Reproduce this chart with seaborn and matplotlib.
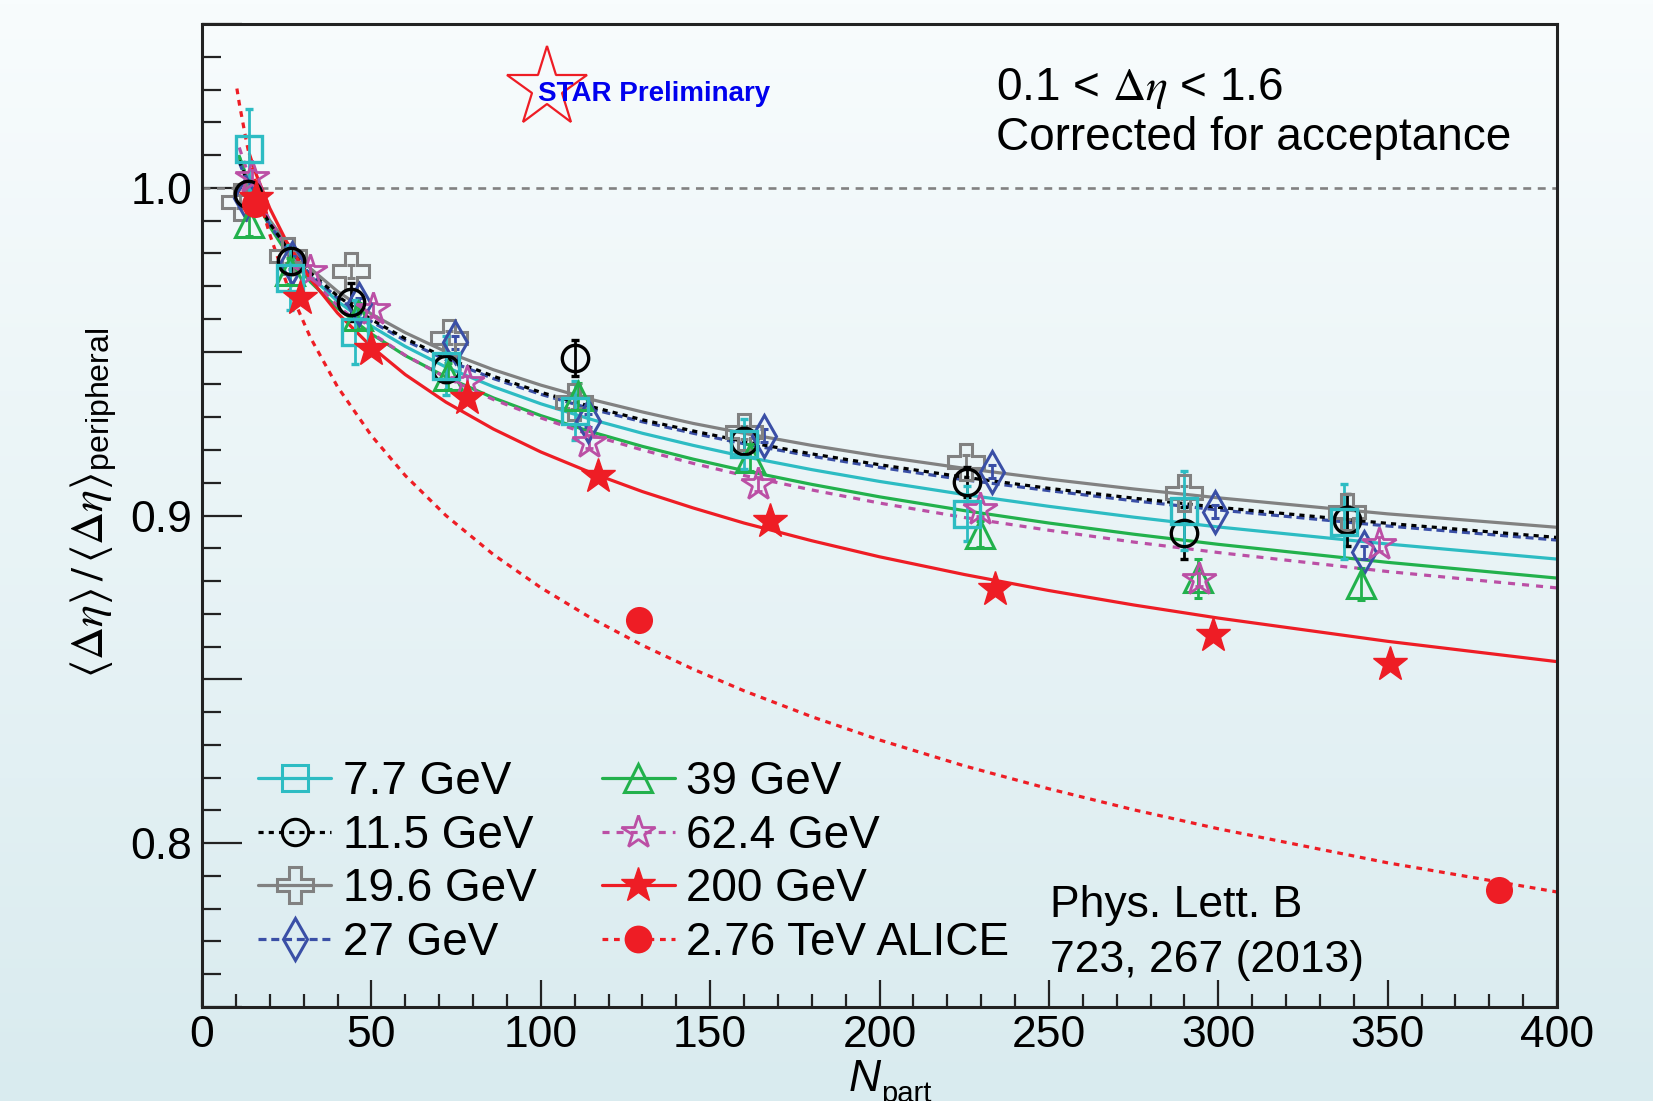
import numpy as np
import matplotlib
matplotlib.use('Agg')
import matplotlib.pyplot as plt
import seaborn as sns
from matplotlib.lines import Line2D
from matplotlib.colors import LinearSegmentedColormap
from matplotlib.ticker import MultipleLocator, FuncFormatter

npart_7 = [14.0, 26.0, 45.2, 72.0, 110.1, 160.0, 225.9, 290.0, 337.1]
ratio_7 = [1.0117, 0.9726, 0.9560, 0.9457, 0.9320, 0.9218, 0.9005, 0.9015, 0.8981]
err_7 = [0.0125, 0.0100, 0.0098, 0.0090, 0.0090, 0.0075, 0.0084, 0.0120, 0.0114]

npart_11 = [13.7, 26.3, 43.9, 72.0, 110.1, 160.0, 225.9, 290.0, 338.0]
ratio_11 = [0.9980, 0.9777, 0.9652, 0.9447, 0.9482, 0.9228, 0.9101, 0.8947, 0.8987]
err_11 = [0.0030, 0.0040, 0.0057, 0.0040, 0.0055, 0.0040, 0.0046, 0.0080, 0.0080]

npart_19 = [11.2, 25.3, 43.9, 73.0, 109.9, 160.0, 225.6, 290.0, 338.0]
ratio_19 = [0.9957, 0.9792, 0.9746, 0.9543, 0.9345, 0.9254, 0.9164, 0.9069, 0.9010]
err_19 = [0.002, 0.002, 0.002, 0.002, 0.002, 0.002, 0.002, 0.002, 0.002]

npart_27 = [13.0, 26.5, 46.4, 74.7, 114.0, 166.0, 233.2, 299.0, 343.0]
ratio_27 = [0.9970, 0.9772, 0.9645, 0.9528, 0.9289, 0.9243, 0.9134, 0.9012, 0.8888]
err_27 = [0.002, 0.002, 0.002, 0.002, 0.002, 0.002, 0.002, 0.002, 0.002]

npart_39 = [14.0, 26.0, 46.0, 72.5, 111.0, 161.9, 229.7, 294.0, 342.1]
ratio_39 = [0.9894, 0.9745, 0.9610, 0.9426, 0.9365, 0.9177, 0.8944, 0.8808, 0.8791]
err_39 = [0.004, 0.004, 0.004, 0.004, 0.004, 0.004, 0.004, 0.006, 0.005]

npart_62 = [14.7, 31.9, 50.6, 78.1, 114.3, 164.2, 229.7, 294.3, 347.4]
ratio_62 = [1.0034, 0.9746, 0.9630, 0.9406, 0.9225, 0.9096, 0.9020, 0.8806, 0.8913]
err_62 = [0.002, 0.002, 0.002, 0.002, 0.002, 0.002, 0.002, 0.002, 0.002]

npart_200 = [16.0, 28.9, 49.8, 78.1, 117.0, 167.6, 234.2, 298.4, 350.7]
ratio_200 = [0.9970, 0.9665, 0.9508, 0.9360, 0.9121, 0.8984, 0.8776, 0.8636, 0.8547]
err_200 = [0.002, 0.002, 0.002, 0.002, 0.002, 0.002, 0.002, 0.002, 0.002]

npart_alice = [15.7, 128.9, 383.0]
ratio_alice = [0.9952, 0.8680, 0.7858]

# fit curves
fit_x = [11, 13, 16, 20, 25, 32, 40, 50, 60, 72, 86, 100, 115, 130, 145, 160, 180, 200,
         225, 250, 275, 300, 350, 400]
fit_19 = [1.0089, 1.0036, 0.9971, 0.9901, 0.9832, 0.9754, 0.9684, 0.9615, 0.9558, 0.9500,
          0.9445, 0.9398, 0.9354, 0.9316, 0.9281, 0.9251, 0.9214, 0.9181, 0.9144, 0.9111,
          0.9081, 0.9054, 0.9005, 0.8964]
fit_11 = [1.0083, 1.0029, 0.9963, 0.9891, 0.9820, 0.9741, 0.9670, 0.9598, 0.9540, 0.9481,
          0.9425, 0.9376, 0.9332, 0.9292, 0.9258, 0.9226, 0.9188, 0.9155, 0.9117, 0.9083,
          0.9053, 0.9025, 0.8976, 0.8933]
fit_27 = [1.0078, 1.0025, 0.9958, 0.9886, 0.9815, 0.9736, 0.9664, 0.9592, 0.9534, 0.9475,
          0.9418, 0.9370, 0.9325, 0.9286, 0.9251, 0.9219, 0.9181, 0.9147, 0.9109, 0.9076,
          0.9045, 0.9017, 0.8968, 0.8925]
fit_7 = [1.0096, 1.0039, 0.9968, 0.9892, 0.9815, 0.9731, 0.9654, 0.9578, 0.9516, 0.9453,
         0.9393, 0.9341, 0.9293, 0.9251, 0.9214, 0.9180, 0.9140, 0.9104, 0.9064, 0.9028,
         0.8995, 0.8965, 0.8913, 0.8867]
fit_39 = [1.0096, 1.0036, 0.9961, 0.9882, 0.9802, 0.9713, 0.9633, 0.9554, 0.9488, 0.9423,
          0.9359, 0.9305, 0.9255, 0.9211, 0.9172, 0.9137, 0.9095, 0.9057, 0.9015, 0.8977,
          0.8943, 0.8912, 0.8857, 0.8809]
fit_62 = [1.0123, 1.0061, 0.9983, 0.9900, 0.9816, 0.9724, 0.9640, 0.9557, 0.9489, 0.9421,
          0.9354, 0.9298, 0.9245, 0.9200, 0.9159, 0.9122, 0.9078, 0.9038, 0.8994, 0.8955,
          0.8919, 0.8887, 0.8829, 0.8779]
fit_x_200 = [14, 16, 20, 25, 32, 40, 50, 60, 72, 86, 100, 115, 130, 145, 160, 180, 200,
             225, 250, 275, 300, 350, 400]
fit_200 = [1.0103, 1.0041, 0.9938, 0.9835, 0.9721, 0.9618, 0.9515, 0.9430, 0.9346, 0.9264,
           0.9194, 0.9130, 0.9073, 0.9023, 0.8977, 0.8923, 0.8874, 0.8820, 0.8771, 0.8727,
           0.8687, 0.8616, 0.8554]
fit_x_alice = [10.3, 11, 13, 14, 16, 18, 20, 25, 32, 40, 50, 60, 72, 86, 100, 115, 130, 145,
               160, 180, 200, 225, 250, 275, 300, 350, 400]
fit_alice = [1.0303, 1.0258, 1.0147, 1.0097, 1.0007, 0.9928, 0.9858, 0.9708, 0.9543, 0.9393,
             0.9244, 0.9122, 0.9000, 0.8881, 0.8780, 0.8686, 0.8604, 0.8531, 0.8465, 0.8386,
             0.8315, 0.8236, 0.8166, 0.8102, 0.8044, 0.7940, 0.7851]

CYAN = '#2dbcc3'
GRAY = '#818181'
BLUE = '#3a4fa6'
GREEN = '#22b14c'
MAGENTA = '#bb4fa5'
RED = '#ee1d25'

sns.set_theme(style='ticks')
plt.rcParams['font.family'] = ['Liberation Sans', 'DejaVu Sans']
plt.rcParams['text.color'] = 'black'
plt.rcParams['mathtext.fontset'] = 'custom'
plt.rcParams['mathtext.rm'] = 'STIXGeneral'
plt.rcParams['mathtext.it'] = 'STIXGeneral:italic'
plt.rcParams['mathtext.sf'] = 'Liberation Sans'
plt.rcParams['mathtext.fallback'] = 'stix'

fig = plt.figure(figsize=(16.53, 11.01), dpi=100)

# light gradient background
bg = fig.add_axes([0, 0, 1, 1], zorder=-10)
grad = np.linspace(0, 1, 256).reshape(-1, 1)
bg_cmap = LinearSegmentedColormap.from_list('bg', ['#f8fcfd', '#d9ebef'])
bg.imshow(grad, aspect='auto', cmap=bg_cmap, extent=[0, 1, 0, 1], origin='upper')
bg.axis('off')

ax = fig.add_axes([202 / 1653, 1 - 1007 / 1101, 1355 / 1653, 983 / 1101])
ax.set_facecolor('none')

ax.axhline(1.0, color=GRAY, ls=(0, (3, 2.5)), lw=1.9, zorder=1)

# fits
curves = [
    (fit_x, fit_19, GRAY, '-'),
    (fit_x, fit_7, CYAN, '-'),
    (fit_x, fit_39, GREEN, '-'),
    (fit_x, fit_62, MAGENTA, (0, (2.2, 2.2))),
    (fit_x, fit_27, BLUE, (0, (2.5, 1.5))),
    (fit_x, fit_11, 'black', (0, (1.6, 1.6))),
    (fit_x_200, fit_200, RED, '-'),
    (fit_x_alice, fit_alice, RED, (0, (1.8, 1.8))),
]
for cx, cy, col, ls in curves:
    sns.lineplot(x=cx, y=cy, ax=ax, color=col, linestyle=ls, lw=2.3,
                 sort=False, estimator=None, zorder=2)

mk = dict(ls='none', elinewidth=2, capsize=3, capthick=2, zorder=4)
ax.errorbar(npart_19, ratio_19, yerr=err_19, color=GRAY, marker='P', ms=26,
            mfc='none', mec=GRAY, mew=2.2, **mk)
ax.errorbar(npart_27, ratio_27, yerr=err_27, color=BLUE, marker='d', ms=21,
            mfc='none', mec=BLUE, mew=2.2, **mk)
ax.errorbar(npart_39, ratio_39, yerr=err_39, color=GREEN, marker='^', ms=20,
            mfc='none', mec=GREEN, mew=2.2, **mk)
ax.errorbar(npart_62, ratio_62, yerr=err_62, color=MAGENTA, marker='*', ms=25,
            mfc='none', mec=MAGENTA, mew=2.0, **mk)
ax.errorbar(npart_11, ratio_11, yerr=err_11, color='black', marker='o', ms=19,
            mfc='none', mec='black', mew=2.4, **mk)
ax.errorbar(npart_7, ratio_7, yerr=err_7, color=CYAN, marker='s', ms=19,
            mfc='none', mec=CYAN, mew=2.4, **mk)
ax.errorbar(npart_200, ratio_200, yerr=err_200, color=RED, marker='*', ms=26,
            mfc=RED, mec=RED, mew=1, **mk)
sns.scatterplot(x=npart_alice, y=ratio_alice, ax=ax, color=RED, s=380,
                edgecolor=RED, linewidth=0, zorder=5)

ax.set_xlim(0, 400)
ax.set_ylim(0.75, 1.05)
ax.xaxis.set_major_locator(MultipleLocator(50))
ax.xaxis.set_minor_locator(MultipleLocator(10))
ax.yaxis.set_major_locator(MultipleLocator(0.05))
ax.yaxis.set_minor_locator(MultipleLocator(0.01))
ax.yaxis.set_major_formatter(FuncFormatter(
    lambda v, p: f'{v:.1f}' if abs(v * 10 - round(v * 10)) < 1e-6 else ''))
ax.xaxis.set_major_formatter(FuncFormatter(lambda v, p: f'{v:.0f}'))
ax.tick_params(axis='y', which='major', direction='in', length=29, width=1.6,
               labelsize=32, pad=7, color='#222222', labelcolor='black', right=False)
ax.tick_params(axis='y', which='minor', direction='in', length=14, width=1.6,
               color='#222222', right=False)
ax.tick_params(axis='x', which='major', direction='in', length=19.5, width=1.6,
               labelsize=32, pad=6, color='#222222', labelcolor='black', top=False)
ax.tick_params(axis='x', which='minor', direction='in', length=9.5, width=1.6,
               color='#222222', top=False)
for s in ax.spines.values():
    s.set_linewidth(2.2)
    s.set_color('#222222')
ax.set_xlabel('')
ax.set_ylabel('')

# legend
def handle(col, ls, m, ms, filled=False, mew=2.2):
    return Line2D([], [], color=col, ls=ls, lw=2.3, marker=m, ms=ms,
                  mfc=col if filled else 'none', mec=col, mew=mew)

handles = [
    handle(CYAN, '-', 's', 19),
    handle('black', (0, (1.6, 1.6)), 'o', 19),
    handle(GRAY, '-', 'P', 26),
    handle(BLUE, (0, (2.5, 1.5)), 'd', 21),
    handle(GREEN, '-', '^', 20),
    handle(MAGENTA, (0, (2.2, 2.2)), '*', 25, mew=2.0),
    handle(RED, '-', '*', 26, filled=True, mew=1),
    handle(RED, (0, (1.8, 1.8)), 'o', 20, filled=True, mew=0),
]
labels = ['7.7 GeV', '11.5 GeV', '19.6 GeV', '27 GeV',
          '39 GeV', '62.4 GeV', '200 GeV', '2.76 TeV ALICE']
fig.legend(handles, labels, loc='upper left', bbox_to_anchor=(258 / 1653, 1 - 760 / 1101),
           bbox_transform=fig.transFigure, ncol=2, frameon=False, fontsize=33,
           borderpad=0, borderaxespad=0, handlelength=1.6, handletextpad=0.25,
           columnspacing=1.42, labelspacing=0.21, numpoints=1)

# texts
fig.text(996 / 1653, 1 - 100 / 1101, r'0.1 < $\Delta\eta$ < 1.6', fontsize=33,
         ha='left', va='baseline')
fig.text(996 / 1653, 1 - 150 / 1101, 'Corrected for acceptance', fontsize=33,
         ha='left', va='baseline')
fig.text(1050 / 1653, 1 - 917 / 1101, 'Phys. Lett. B', fontsize=32,
         ha='left', va='baseline')
fig.text(1050 / 1653, 1 - 972 / 1101, '723, 267 (2013)', fontsize=32,
         ha='left', va='baseline')

fig.add_artist(Line2D([547 / 1653], [1 - 88 / 1101], marker='*', ms=60, mfc='none',
                      mec=RED, mew=1.6, ls='none', transform=fig.transFigure))
fig.text(538 / 1653, 1 - 94 / 1101, 'STAR Preliminary', fontsize=20, fontweight='bold',
         color='#0000ee', ha='left', va='center')

fig.text(93 / 1653, 1 - 503 / 1101,
         r'$\langle\Delta\eta\rangle\,/\,\langle\Delta\eta\rangle_{\mathsf{peripheral}}$',
         fontsize=33, rotation=90, ha='center', va='center')
fig.text(849 / 1653, 1 - 1091 / 1101, 'N', fontsize=32, fontstyle='italic',
         ha='left', va='baseline')
fig.text(881 / 1653, 1 - 1102 / 1101, 'part', fontsize=21, ha='left', va='baseline')

fig.savefig('out.png', dpi=100)
